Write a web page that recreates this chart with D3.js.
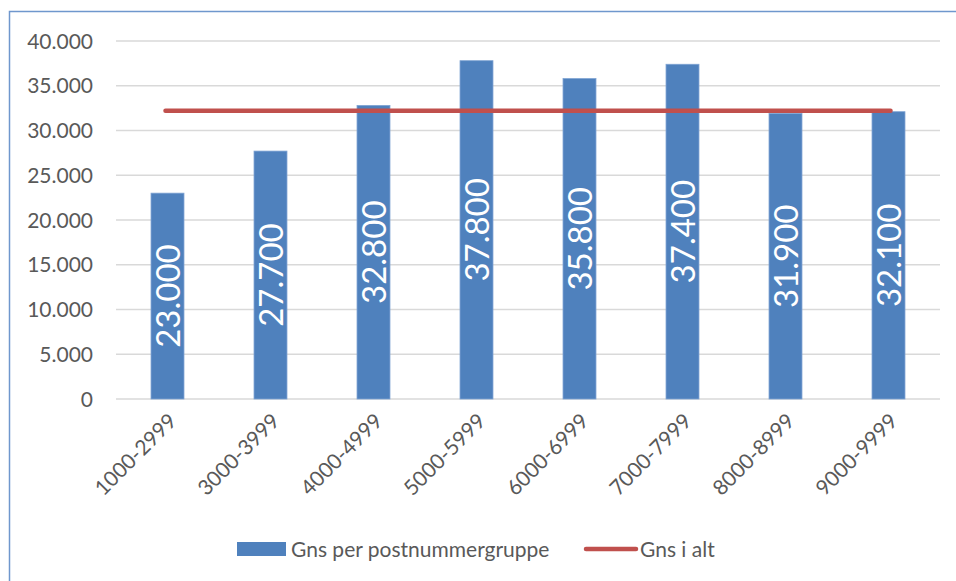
<!DOCTYPE html>
<html><head><meta charset="utf-8">
<script src="https://cdn.jsdelivr.net/npm/d3@7"></script>
<style>body{margin:0;background:#fff}svg{display:block}</style>
</head><body>
<svg id="c" width="956" height="581"></svg>
<script>
const categories = ["1000-2999","3000-3999","4000-4999","5000-5999","6000-6999","7000-7999","8000-8999","9000-9999"];
const barValues = [23000,27700,32800,37800,35800,37400,31900,32100];
const totalAverage = 32200;
const yTicks = [0,5000,10000,15000,20000,25000,30000,35000,40000];
const seriesNames = ["Gns per postnummergruppe","Gns i alt"];

const fmt = v => v === 0 ? "0" : d3.format(",")(v).replace(/,/g, ".");
const font = "Lato, 'Open Sans', sans-serif";
const svg = d3.select("#c");

svg.append("rect").attr("x",9.5).attr("y",11.5).attr("width",1000).attr("height",1000)
  .attr("fill","#fff").attr("stroke","#6f97cd").attr("stroke-width",1.5);

const L=116, R=940, T=41, B=399;
const x = d3.scaleBand().domain(categories).range([L,R]).padding(0);
const y = d3.scaleLinear().domain([0,40000]).range([B,T]);

const g = svg.append("g");
g.selectAll("line.grid").data(yTicks).join("line")
  .attr("x1",L).attr("x2",R).attr("y1",d=>y(d)).attr("y2",d=>y(d))
  .attr("stroke","#d9d9d9").attr("stroke-width",1.3);

g.selectAll("text.yt").data(yTicks).join("text")
  .attr("x",93).attr("y",d=>y(d)).attr("dy","0.36em").attr("text-anchor","end")
  .attr("font-family",font).attr("font-size",21).attr("fill","#595959").text(fmt);

const bw = x.bandwidth()*0.32;
g.selectAll("rect.bar").data(barValues).join("rect")
  .attr("x",(d,i)=>x(categories[i])+x.bandwidth()/2-bw/2)
  .attr("y",d=>y(d)).attr("width",bw).attr("height",d=>B-y(d))
  .attr("fill","#4f81bd").attr("stroke","#7ea3d3").attr("stroke-width",0.8);

g.selectAll("text.lbl").data(barValues).join("text")
  .attr("transform",(d,i)=>`translate(${x(categories[i])+x.bandwidth()/2+1},${(y(d)+B)/2}) rotate(-90)`)
  .attr("text-anchor","middle").attr("dy","0.36em")
  .attr("font-family",font).attr("font-size",33).attr("fill","#fff").text(fmt);

g.append("line")
  .attr("x1",x(categories[0])+x.bandwidth()/2-2).attr("x2",x(categories[categories.length-1])+x.bandwidth()/2+2)
  .attr("y1",y(totalAverage)).attr("y2",y(totalAverage))
  .attr("stroke","#c0504d").attr("stroke-width",4.5).attr("stroke-linecap","round");

g.selectAll("text.xt").data(categories).join("text")
  .attr("transform",d=>`translate(${x(d)+x.bandwidth()/2+5},${B+18}) rotate(-45)`)
  .attr("text-anchor","end").attr("dy","0.36em")
  .attr("font-family",font).attr("font-size",21).attr("fill","#595959").text(d=>d);

// legend
svg.append("rect").attr("x",237).attr("y",542).attr("width",49).attr("height",14).attr("fill","#4f81bd");
svg.append("text").attr("x",291).attr("y",549).attr("dy","0.36em")
  .attr("font-family",font).attr("font-size",21).attr("fill","#595959").text(seriesNames[0]);
svg.append("line").attr("x1",586).attr("x2",636).attr("y1",549).attr("y2",549)
  .attr("stroke","#c0504d").attr("stroke-width",4.5).attr("stroke-linecap","round");
svg.append("text").attr("x",640).attr("y",549).attr("dy","0.36em")
  .attr("font-family",font).attr("font-size",21).attr("fill","#595959").text(seriesNames[1]);
</script>
</body></html>
